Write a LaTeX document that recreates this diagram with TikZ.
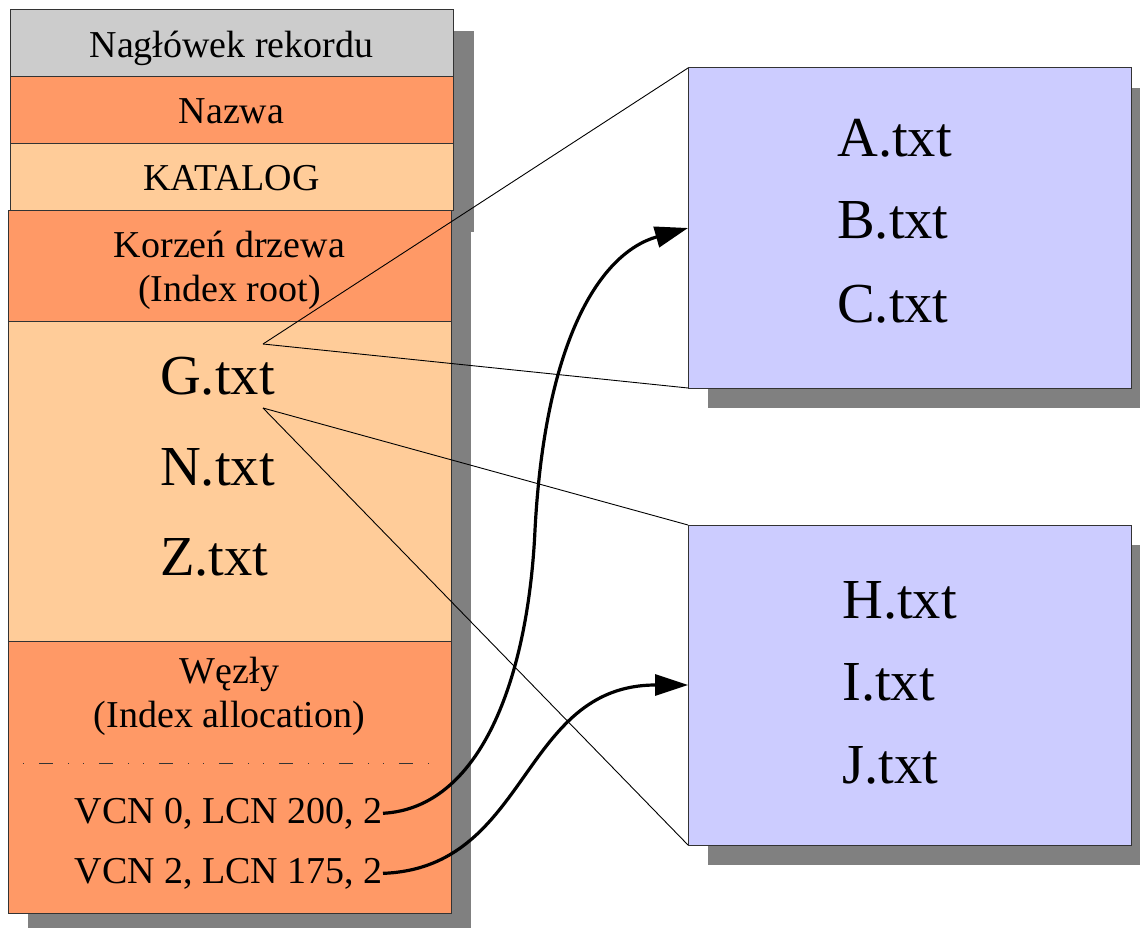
\documentclass[tikz,border=0pt]{standalone}
\usepackage{fontspec}
\setmainfont{Liberation Serif}
\usetikzlibrary{arrows.meta}
\definecolor{hdrgray}{HTML}{CCCCCC}
\definecolor{deeporange}{HTML}{FF9966}
\definecolor{paleorange}{HTML}{FFCC99}
\definecolor{lavender}{HTML}{CCCCFF}
\definecolor{shadowgray}{HTML}{808080}
\definecolor{edge}{HTML}{333333}

\begin{document}
\begin{tikzpicture}[x=1pt,y=-1pt,
  cell/.style={draw=edge, line width=1pt, inner sep=0pt, outer sep=0pt,
               anchor=north west, minimum width=443pt},
  small/.style={font=\fontsize{38}{44}\selectfont, inner sep=0pt},
  big/.style={font=\fontsize{56.5}{66}\selectfont, inner sep=0pt},
  dropfill/.style={fill=shadowgray},
  thin link/.style={draw=black, line width=0.9pt},
  divider/.style={draw=black!80, line width=0.9pt,
                  dash pattern=on 1pt off 14pt on 1pt off 15pt on 14pt off 15pt},
  pointer/.style={draw=black, line width=3.2pt,
                  -{Triangle[length=33pt,width=21pt]}}
]
\useasboundingbox (0,0) rectangle (1140,928);
\clip (0,0) rectangle (1140,928);

% drop shadows
\fill[dropfill] (31,31) rectangle (474,232);
\fill[dropfill] (28,231) rectangle (471,950);
\fill[dropfill] (708,88) rectangle (1151,408);
\fill[dropfill] (708,545) rectangle (1151,865);

% MFT record: upper part
\node[cell, fill=hdrgray,    minimum height=67pt] (hdr)     at (10,10)  {};
\node[cell, fill=deeporange, minimum height=67pt] (nazwa)   at (10,77)  {};
\node[cell, fill=paleorange, minimum height=67pt] (katalog) at (10,144) {};

% MFT record: index part
\node[cell, fill=deeporange, minimum height=110pt] (root)    at (8,211) {};
\node[cell, fill=paleorange, minimum height=320pt] (entries) at (8,321) {};
\node[cell, fill=deeporange, minimum height=272pt] (alloc)   at (8,641) {};
\draw[divider] (8,763) -- (440,763);

% index buffers
\node[cell, fill=lavender, minimum height=320pt] (box1) at (688,68)  {};
\node[cell, fill=lavender, minimum height=320pt] (box2) at (688,525) {};

% labels
\node[small, anchor=base] (t-hdr)   at (231.5,58)    {Nagłówek rekordu};
\node[small, anchor=base] (t-nazwa) at (231.5,124)   {Nazwa};
\node[small, anchor=base] (t-kat)   at (231.5,190.5) {KATALOG};
\node[small, anchor=base] (t-root1) at (229.5,257)   {Korzeń drzewa};
\node[small, anchor=base] (t-root2) at (229.5,301)   {(Index root)};
\node[small, anchor=base] (t-w1)    at (229.5,683)   {Węzły};
\node[small, anchor=base] (t-w2)    at (229.5,727)   {(Index allocation)};
\node[small, anchor=base east] (vcn0) at (383,823) {VCN 0, LCN 200, 2};
\node[small, anchor=base east] (vcn2) at (383,883) {VCN 2, LCN 175, 2};

\node[big, anchor=base west] (fg) at (160,394)   {G.txt};
\node[big, anchor=base west] (fn) at (160,485.5) {N.txt};
\node[big, anchor=base west] (fz) at (160,575)   {Z.txt};

\node[big, anchor=base west] (fa) at (837,157) {A.txt};
\node[big, anchor=base west] (fb) at (837,238) {B.txt};
\node[big, anchor=base west] (fc) at (837,322) {C.txt};

\node[big, anchor=base west] (fh) at (842,618) {H.txt};
\node[big, anchor=base west] (fi) at (842,700) {I.txt};
\node[big, anchor=base west] (fj) at (842,783) {J.txt};

% fan-out from the G.txt entry to its child buffers
\coordinate (gtop) at (263,344);
\coordinate (gbot) at (263,408);
\draw[thin link] (gtop) -- (box1.north west);
\draw[thin link] (gtop) -- (box1.south west);
\draw[thin link] (gbot) -- (box2.north west);
\draw[thin link] (gbot) -- (box2.south west);

% run pointers
\coordinate (bend1) at (535,530);
\draw[pointer] (vcn0.east) .. controls (480,808) and (528,680) .. (bend1)
               .. controls (545,340) and (600,253) .. (box1.west);
\draw[pointer] (vcn2.east) .. controls (530,868) and (520,685) .. (box2.west);
\end{tikzpicture}
\end{document}
